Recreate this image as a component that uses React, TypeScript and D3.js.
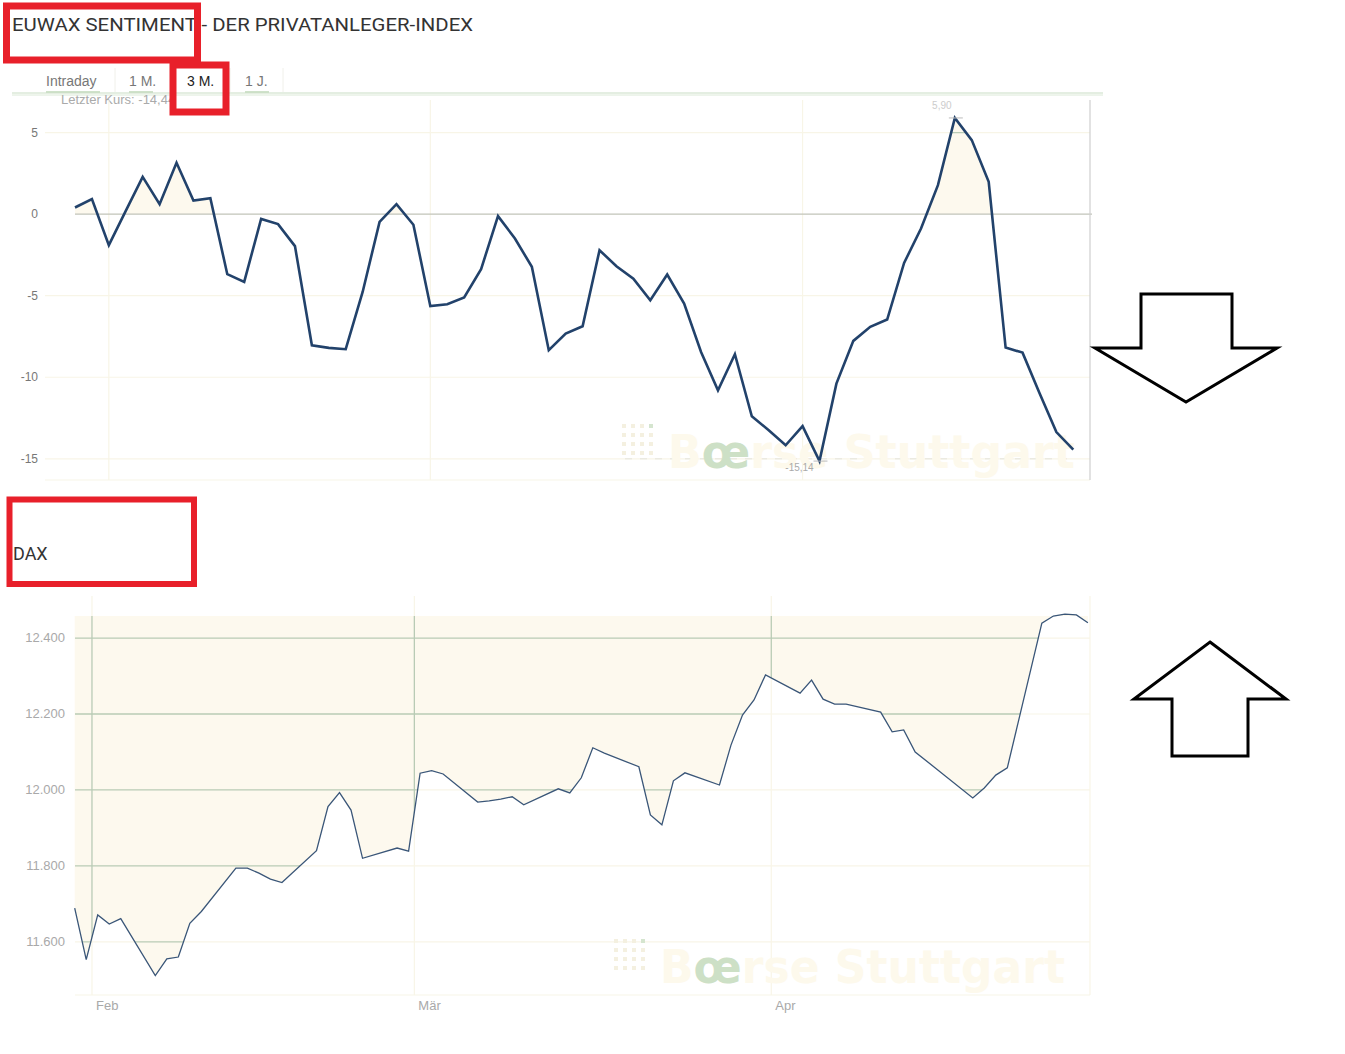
import React from 'react';
import * as d3 from 'd3';

// ---------- EUWAX sentiment (3 months, trading-day index) ----------
const sentimentValues: number[] = [
  0.41, 0.92, -1.9, 0.2, 2.29, 0.61, 3.15, 0.84, 0.98, -3.68,
  -4.15, -0.29, -0.61, -1.96, -8.04, -8.2, -8.28, -4.77, -0.47, 0.61,
  -0.65, -5.64, -5.52, -5.11, -3.37, -0.12, -1.49, -3.23, -8.34, -7.32,
  -6.87, -2.21, -3.19, -3.95, -5.28, -3.7, -5.48, -8.45, -10.8, -8.59,
  -12.39, -13.25, -14.17, -13.0, -15.14, -10.39, -7.77, -6.91, -6.46, -2.99,
  -0.88, 1.78, 5.9, 4.54, 1.98, -8.18, -8.49, -10.96, -13.36, -14.44,
];
const sentimentMonthIndex: number[] = [2, 21, 43];
const sentimentTicks: number[] = [5, 0, -5, -10, -15];
const sentimentMaxLabel = '5,90';
const sentimentMinLabel = '-15,14';
const lastValueLabel = 'Letzter Kurs: -14,44';
const tabs: string[] = ['Intraday', '1 M.', '3 M.', '1 J.'];
const activeTab = '3 M.';

// ---------- DAX ----------
const daxDates: string[] = [
  '2017-01-30', '2017-01-31', '2017-02-01', '2017-02-02', '2017-02-03',
  '2017-02-06', '2017-02-07', '2017-02-08', '2017-02-09', '2017-02-10',
  '2017-02-13', '2017-02-14', '2017-02-15', '2017-02-16', '2017-02-17',
  '2017-02-20', '2017-02-21', '2017-02-22', '2017-02-23', '2017-02-24',
  '2017-02-27', '2017-02-28', '2017-03-01', '2017-03-02', '2017-03-03',
  '2017-03-06', '2017-03-07', '2017-03-08', '2017-03-09', '2017-03-10',
  '2017-03-13', '2017-03-14', '2017-03-15', '2017-03-16', '2017-03-17',
  '2017-03-20', '2017-03-21', '2017-03-22', '2017-03-23', '2017-03-24',
  '2017-03-27', '2017-03-28', '2017-03-29', '2017-03-30', '2017-03-31',
  '2017-04-03', '2017-04-04', '2017-04-05', '2017-04-06', '2017-04-07',
  '2017-04-10', '2017-04-11', '2017-04-12', '2017-04-13',
  '2017-04-18', '2017-04-19', '2017-04-20', '2017-04-21',
  '2017-04-24', '2017-04-25', '2017-04-26', '2017-04-27', '2017-04-28',
];
const daxValues: number[] = [
  11689, 11553, 11671, 11647, 11661,
  11511, 11555, 11560, 11649, 11680,
  11794, 11794, 11781, 11765, 11756,
  11840, 11956, 11993, 11947, 11820,
  11847, 11839, 12044, 12051, 12042,
  11968, 11971, 11976, 11982, 11961,
  12003, 11992, 12032, 12111, 12097,
  12061, 11934, 11908, 12024, 12045,
  12013, 12118, 12197, 12237, 12303,
  12255, 12289, 12239, 12226, 12226,
  12205, 12153, 12158, 12100,
  11979, 12005, 12039, 12058,
  12439, 12458, 12463, 12461, 12440,
];
const daxTicks: number[] = [12400, 12200, 12000, 11800, 11600];
const daxMonthDates: string[] = ['2017-02-01', '2017-03-01', '2017-04-01'];
const daxMonthLabels: string[] = ['Feb', 'Mär', 'Apr'];

const deLocale = d3.formatLocale({ decimal: ',', thousands: '.', grouping: [3], currency: ['', ' €'] });
const fmtDax = deLocale.format(',');

const parseDay = d3.timeParse('%Y-%m-%d');
const noon = (s: string) => { const d = parseDay(s)!; d.setHours(12); return d; };

const C = {
  cream: '#fdf9ee',
  gridGreen: '#b9cbb5',
  gridFaint: '#f8f5e7',
  navy: '#22426b',
  daxLine: '#3a5678',
  axisText: '#a9a9a9',
  red: '#e8202a',
};

const SANS = 'Liberation Sans, Arial, sans-serif';

function Watermark({ x, y, w }: { x: number; y: number; w: number }) {
  const dots: { cx: number; cy: number; g: boolean }[] = [];
  for (let r = 0; r < 4; r++) for (let c = 0; c < 4; c++) dots.push({ cx: x + c * 9, cy: y - 44 + r * 9, g: r === 0 && c === 3 });
  return (
    <g>
      {dots.map((d, i) => (
        <rect key={i} x={d.cx} y={d.cy} width={4} height={4} fill={d.g ? '#d5e5cf' : '#f4f0e0'} />
      ))}
      <text x={x + 46} y={y} fontFamily="DejaVu Sans, sans-serif" fontWeight="bold" fontSize={46}
        textLength={w} lengthAdjust="spacingAndGlyphs" fill="#fdf9ec">
        B<tspan fill="#cde0c6">œ</tspan>rse Stuttgart
      </text>
    </g>
  );
}

function SentimentChart() {
  const x = d3.scaleLinear().domain([0, sentimentValues.length - 1]).range([75, 1073.3]);
  const y = d3.scaleLinear().domain([-16.3, 7]).range([480, 100]);
  const left = 75, right = 1090, top = 100, bottom = 480;
  const line = d3.line<number>().x((_, i) => x(i)).y(d => y(d));
  const area = d3.area<number>().x((_, i) => x(i)).y0(y(0)).y1(d => y(d));
  const maxI = d3.maxIndex(sentimentValues);
  const minI = d3.minIndex(sentimentValues);
  const areaPath = area(sentimentValues) || '';
  return (
    <g>
      <defs>
        <clipPath id="sentPos"><rect x={left} y={top - 30} width={right - left} height={y(0) - top + 30} /></clipPath>
        <clipPath id="sentFill"><path d={areaPath} /></clipPath>
      </defs>
      {sentimentTicks.filter(t => t !== 0).map(t => (
        <line key={t} x1={left - 30} x2={right} y1={y(t)} y2={y(t)} stroke={C.gridFaint} strokeWidth={1.2} />
      ))}
      {sentimentMonthIndex.map(i => (
        <line key={i} x1={x(i)} x2={x(i)} y1={top} y2={bottom} stroke={C.gridFaint} strokeWidth={1.2} />
      ))}
      <line x1={left - 30} x2={right} y1={bottom} y2={bottom} stroke={C.gridFaint} strokeWidth={1.2} />
      <line x1={625} x2={1075} y1={y(-15)} y2={y(-15)} stroke="#e4e4dc" strokeWidth={1} strokeDasharray="7,8" />
      <Watermark x={622} y={468} w={407} />
      <g clipPath="url(#sentPos)">
        <path d={areaPath} fill={C.cream} />
        <g clipPath="url(#sentFill)">
          {sentimentTicks.filter(t => t > 0).map(t => (
            <line key={t} x1={left} x2={right} y1={y(t)} y2={y(t)} stroke={C.gridGreen} strokeWidth={1.2} />
          ))}
        </g>
      </g>
      <line x1={left} x2={right + 2} y1={y(0)} y2={y(0)} stroke="#c2c4ba" strokeWidth={1.3} />
      <line x1={right} x2={right} y1={top} y2={bottom} stroke="#cfcfcf" strokeWidth={1.2} />
      <path d={line(sentimentValues) || ''} fill="none" stroke={C.navy} strokeWidth={2.6} strokeLinejoin="miter" />
      {sentimentTicks.map(t => (
        <text key={t} x={38} y={y(t) + 4} textAnchor="end" fontFamily={SANS} fontSize={12} fill="#777">{t}</text>
      ))}
      <line x1={x(maxI) - 6} x2={x(maxI) + 8} y1={y(sentimentValues[maxI])} y2={y(sentimentValues[maxI])} stroke="#bbb" />
      <text x={x(maxI) - 13} y={y(sentimentValues[maxI]) - 9} textAnchor="middle" fontFamily={SANS} fontSize={10} fill="#ccc">{sentimentMaxLabel}</text>
      <line x1={x(minI) - 6} x2={x(minI) + 8} y1={y(sentimentValues[minI])} y2={y(sentimentValues[minI])} stroke="#bbb" />
      <text x={x(minI) - 20} y={y(sentimentValues[minI]) + 10} textAnchor="middle" fontFamily={SANS} fontSize={10} fill="#aaa">{sentimentMinLabel}</text>
    </g>
  );
}

function DaxChart() {
  const dates = daxDates.map(noon);
  const x = d3.scaleTime().domain([noon('2017-01-30'), noon('2017-04-28')]).range([74.7, 1087.9]);
  const y = d3.scaleLinear().domain([11460, 12458]).range([995, 616]);
  const left = 75, right = 1090, top = 616, bottom = 995, gridTop = 596;
  const data = daxValues.map((v, i) => ({ d: dates[i], v }));
  const line = d3.line<{ d: Date; v: number }>().x(p => x(p.d)).y(p => y(p.v));
  const area = d3.area<{ d: Date; v: number }>().x(p => x(p.d)).y0(top).y1(p => y(p.v));
  const areaPath = area(data) || '';
  const months = daxMonthDates.map(s => parseDay(s)!);
  return (
    <g>
      <defs>
        <clipPath id="daxFill"><path d={areaPath} /></clipPath>
      </defs>
      {daxTicks.map(t => (
        <line key={t} x1={left} x2={right} y1={y(t)} y2={y(t)} stroke={C.gridFaint} strokeWidth={1.2} />
      ))}
      {months.map((m, i) => (
        <line key={i} x1={x(m)} x2={x(m)} y1={gridTop} y2={bottom} stroke={C.gridFaint} strokeWidth={1.2} />
      ))}
      <line x1={left} x2={right} y1={bottom} y2={bottom} stroke={C.gridFaint} strokeWidth={1.2} />
      <line x1={right} x2={right} y1={gridTop} y2={bottom} stroke={C.gridFaint} strokeWidth={1.2} />
      <Watermark x={614} y={983} w={405} />
      <path d={areaPath} fill={C.cream} />
      <g clipPath="url(#daxFill)">
        {daxTicks.map(t => (
          <line key={t} x1={left} x2={right} y1={y(t)} y2={y(t)} stroke={C.gridGreen} strokeWidth={1.3} />
        ))}
        {months.map((m, i) => (
          <line key={i} x1={x(m)} x2={x(m)} y1={gridTop} y2={bottom} stroke={C.gridGreen} strokeWidth={1.3} />
        ))}
      </g>
      <path d={line(data) || ''} fill="none" stroke={C.daxLine} strokeWidth={1.3} />
      {daxTicks.map(t => (
        <text key={t} x={65} y={y(t) + 4} textAnchor="end" fontFamily={SANS} fontSize={13} fill={C.axisText}>{fmtDax(t)}</text>
      ))}
      {months.map((m, i) => (
        <text key={i} x={x(m) + 4} y={1010} fontFamily={SANS} fontSize={13} fill={C.axisText}>{daxMonthLabels[i]}</text>
      ))}
    </g>
  );
}

function Header() {
  const tabX = [46, 129, 187, 245];
  const sepX = [115, 172, 230, 283];
  return (
    <g>
      <text x={12} y={31} fontFamily="Roboto, sans-serif" fontSize={18} fill="#333"
        textLength={461} lengthAdjust="spacingAndGlyphs">EUWAX SENTIMENT - DER PRIVATANLEGER-INDEX</text>
      {sepX.map((sx, i) => (
        <line key={i} x1={sx} x2={sx} y1={68} y2={92} stroke="#f0f0ea" />
      ))}
      {tabs.map((t, i) => (
        <g key={t}>
          <text x={tabX[i]} y={86} fontFamily={SANS} fontSize={14} fill={t === activeTab ? '#222' : '#777'}>{t}</text>
          {t !== activeTab && (
            <line x1={tabX[i]} x2={tabX[i] + (i === 0 ? 54 : 24)} y1={92} y2={92} stroke="#cfe2ca" strokeWidth={2} />
          )}
        </g>
      ))}
      <line x1={12} x2={1103} y1={93} y2={93} stroke="#c9ddc4" strokeWidth={1} />
      <line x1={12} x2={1103} y1={95} y2={95} stroke="#dcead8" strokeWidth={1} />
      <text x={61} y={104} fontFamily={SANS} fontSize={13} fill="#aaa">{lastValueLabel}</text>
      <text x={13} y={560} fontFamily="Roboto, sans-serif" fontSize={18} fill="#333">DAX</text>
    </g>
  );
}

function Annotations() {
  return (
    <g>
      <rect x={6.5} y={6} width={191} height={54} fill="none" stroke={C.red} strokeWidth={7} />
      <rect x={173} y={65} width={53} height={47} fill="#fff" fillOpacity={0} stroke={C.red} strokeWidth={7} />
      <rect x={9.5} y={499.5} width={184.5} height={84.5} fill="none" stroke={C.red} strokeWidth={6} />
      <path d="M1141,294 L1232,294 L1232,348 L1277,348 L1186,402 L1095,348 L1141,348 Z"
        fill="#fff" stroke="#000" strokeWidth={3} />
      <path d="M1210,642 L1286,699 L1248,699 L1248,756 L1172,756 L1172,699 L1134,699 Z"
        fill="#fff" stroke="#000" strokeWidth={3} />
    </g>
  );
}

export default function App() {
  return (
    <svg width={1345} height={1054} style={{ position: 'absolute', left: 0, top: 0, background: '#fff' }}>
      <rect width={1345} height={1054} fill="#fff" />
      <Header />
      <SentimentChart />
      <DaxChart />
      <Annotations />
    </svg>
  );
}
